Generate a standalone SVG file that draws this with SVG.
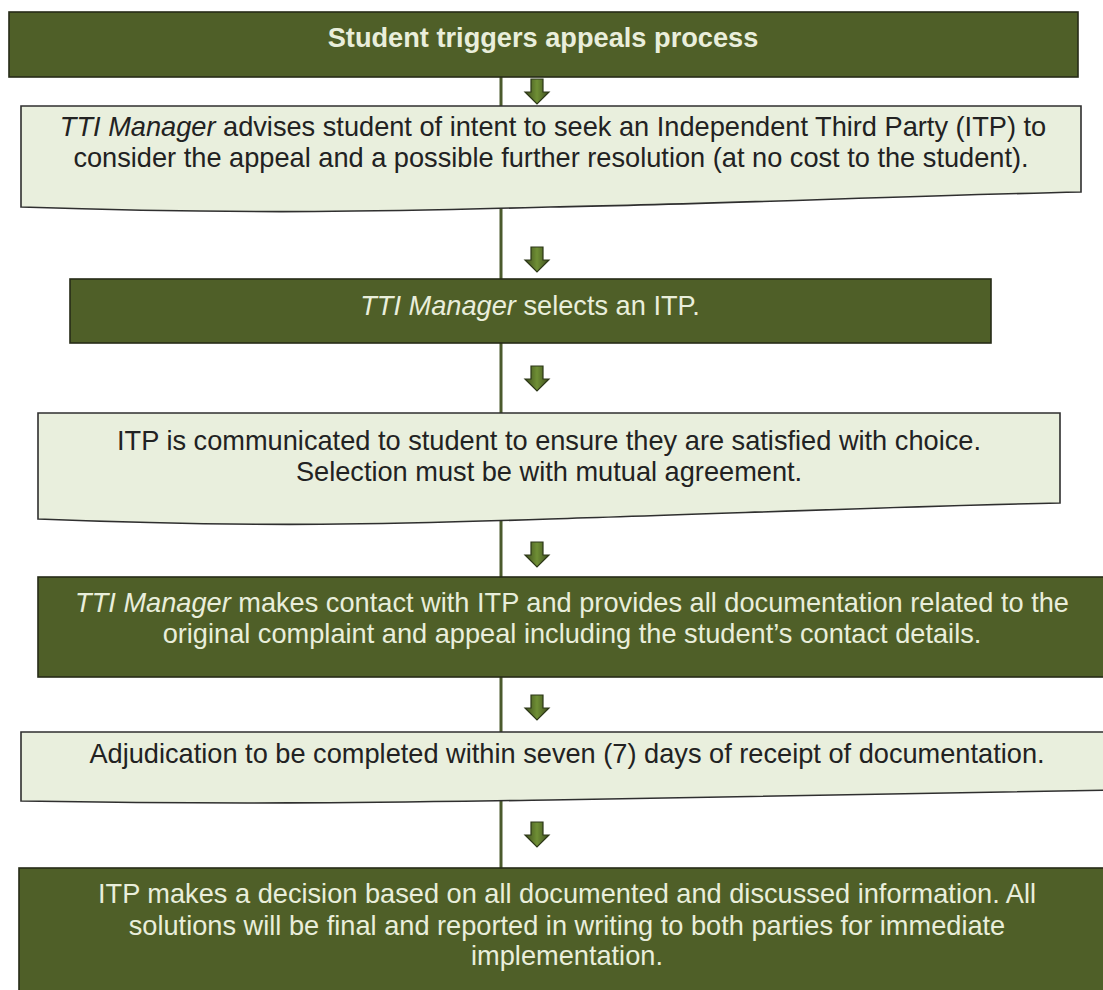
<svg xmlns="http://www.w3.org/2000/svg" width="1103" height="990" viewBox="0 0 1103 990">
  <style>
    .dark { fill: #4f5f28; stroke: #262b17; stroke-width: 1.6; }
    .light { fill: #e9efdd; stroke: #2f2f2f; stroke-width: 1.6; }
    .tl { font-family: "Liberation Sans", Arial, sans-serif; font-size: 27.2px; fill: #e9eedb; text-anchor: middle; }
    .td { font-family: "Liberation Sans", Arial, sans-serif; font-size: 27.2px; fill: #222222; text-anchor: middle; }
    .it { font-style: italic; }
    .arrow { fill: url(#ag); stroke: #2c3718; stroke-width: 1.2; }
  </style>
  <defs>
    <linearGradient id="ag" x1="0" y1="0" x2="1" y2="0">
      <stop offset="0" stop-color="#3e4d1d"/>
      <stop offset="0.5" stop-color="#6f8f35"/>
      <stop offset="1" stop-color="#3e4d1d"/>
    </linearGradient>
    <path id="arr" d="M-6,0 H6 V13 H12 L0,25 L-12,13 H-6 Z"/>
  </defs>
  <rect width="1103" height="990" fill="#ffffff"/>

  <g id="connectors">
    <line x1="501" y1="77" x2="501" y2="868" stroke="#4b5a2c" stroke-width="3"/>
    <use href="#arr" class="arrow" x="537" y="79"/>
    <use href="#arr" class="arrow" x="537" y="247"/>
    <use href="#arr" class="arrow" x="537" y="366"/>
    <use href="#arr" class="arrow" x="537" y="542"/>
    <use href="#arr" class="arrow" x="537" y="695"/>
    <use href="#arr" class="arrow" x="537" y="822"/>
  </g>

  <g id="n1">
    <rect class="dark" x="9" y="12" width="1069" height="65"/>
    <text class="tl" x="543" y="47" font-weight="bold" font-size="27">Student triggers appeals process</text>
  </g>

  <g id="n2">
    <path class="light" d="M21,106 H1081 V192 C900,196 720,204 550,207 C400,211 260,215 21,207 Z"/>
    <text class="td" x="553" y="136"><tspan class="it">TTI Manager</tspan> advises student of intent to seek an Independent Third Party (ITP) to</text>
    <text class="td" x="551" y="167">consider the appeal and a possible further resolution (at no cost to the student).</text>
  </g>

  <g id="n3">
    <rect class="dark" x="70" y="279" width="921" height="64"/>
    <text class="tl" x="530" y="315"><tspan class="it">TTI Manager</tspan> selects an ITP.</text>
  </g>

  <g id="n4">
    <path class="light" d="M38,413 H1060 V503 C880,507 720,514 550,519 C400,524 260,528 38,519 Z"/>
    <text class="td" x="549" y="450">ITP is communicated to student to ensure they are satisfied with choice.</text>
    <text class="td" x="549" y="481">Selection must be with mutual agreement.</text>
  </g>

  <g id="n5">
    <rect class="dark" x="38" y="577" width="1080" height="100"/>
    <text class="tl" x="572" y="612"><tspan class="it">TTI Manager</tspan> makes contact with ITP and provides all documentation related to the</text>
    <text class="tl" x="572" y="643">original complaint and appeal including the student’s contact details.</text>
  </g>

  <g id="n6">
    <path class="light" d="M21,732 H1118 V790 C920,793 740,797 550,800 C400,802 260,805 21,801 Z"/>
    <text class="td" x="567" y="763">Adjudication to be completed within seven (7) days of receipt of documentation.</text>
  </g>

  <g id="n7">
    <rect class="dark" x="19" y="868" width="1100" height="135"/>
    <text class="tl" x="567" y="903">ITP makes a decision based on all documented and discussed information. All</text>
    <text class="tl" x="567" y="935">solutions will be final and reported in writing to both parties for immediate</text>
    <text class="tl" x="567" y="965">implementation.</text>
  </g>
</svg>
